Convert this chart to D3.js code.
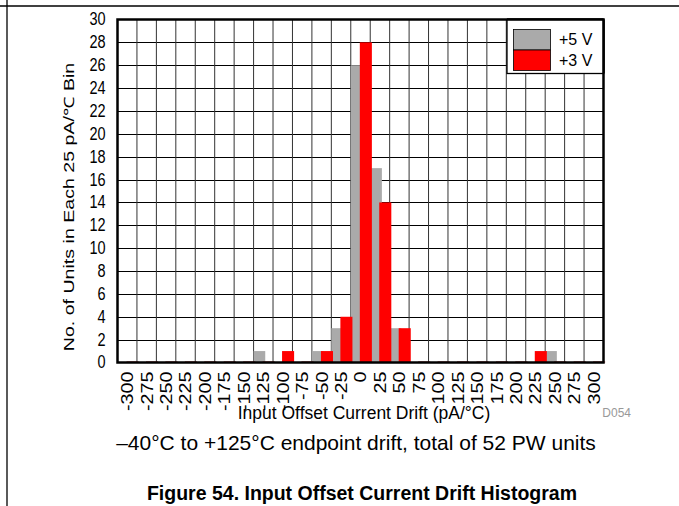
<!DOCTYPE html>
<html>
<head>
<meta charset="utf-8">
<script src="https://cdn.jsdelivr.net/npm/d3@7"></script>
<style>
  html, body { margin: 0; padding: 0; background: #fff; }
  svg { display: block; font-family: "Liberation Sans", Arial, sans-serif; }
</style>
</head>
<body>
<svg id="chart" width="679" height="506"></svg>
<script>
// ---- data ----
const bins = [-300,-275,-250,-225,-200,-175,-150,-125,-100,-75,-50,-25,0,25,50,75,100,125,150,175,200,225,250,275,300];
const plus5V = [0,0,0,0,0,0,0,1,0,0,1,3,26,17,3,0,0,0,0,0,0,0,1,0,0];
const plus3V = [0,0,0,0,0,0,0,0,1,0,1,4,28,14,3,0,0,0,0,0,0,1,0,0,0];
const yTicks = [0,2,4,6,8,10,12,14,16,18,20,22,24,26,28,30];
const seriesNames = ["+5 V", "+3 V"];
const seriesColors = ["#aaaaaa", "#ff0000"];

const svg = d3.select("#chart");
const M = { left: 117.5, right: 603.5, top: 19.5, bottom: 362.5 };

// text helper: font size fx horizontally, stretched to fy vertically
function stext(parent, x, y, str, fx, fy, opts = {}) {
  const t = parent.append("text")
    .attr("transform", `translate(${x},${y}) scale(1,${fy / fx})`)
    .attr("font-size", fx)
    .attr("text-anchor", opts.anchor || "start")
    .attr("fill", opts.fill || "#000")
    .text(str);
  if (opts.bold) t.attr("font-weight", "bold");
  return t;
}

// page frame lines
svg.append("line").attr("x1", 0).attr("x2", 679).attr("y1", 6).attr("y2", 6)
  .attr("stroke", "#000").attr("stroke-width", 1.3);
svg.append("line").attr("x1", 7).attr("x2", 7).attr("y1", 0).attr("y2", 506)
  .attr("stroke", "#000").attr("stroke-width", 1.3);

const x = d3.scaleBand().domain(bins).range([M.left, M.right]).padding(0);
const y = d3.scaleLinear().domain([0, 30]).range([M.bottom, M.top]);
const bw = x.bandwidth();

// gridlines
const grid = svg.append("g");
grid.selectAll("line.h").data(yTicks.slice(1, -1)).join("line")
  .attr("x1", M.left).attr("x2", M.right)
  .attr("y1", d => Math.round(y(d)) + 0.5).attr("y2", d => Math.round(y(d)) + 0.5)
  .attr("stroke", "#000").attr("stroke-width", 1);
grid.selectAll("line.v").data(bins.slice(1)).join("line")
  .attr("x1", d => x(d)).attr("x2", d => x(d))
  .attr("y1", M.top).attr("y2", M.bottom)
  .attr("stroke", "#333").attr("stroke-width", 1);

// bars
const g5 = svg.append("g");
g5.selectAll("rect").data(bins).join("rect")
  .attr("x", d => x(d))
  .attr("width", bw * 0.6)
  .attr("y", (d, i) => y(plus5V[i]))
  .attr("height", (d, i) => y(0) - y(plus5V[i]))
  .attr("fill", seriesColors[0]);
const g3 = svg.append("g");
g3.selectAll("rect").data(bins).join("rect")
  .attr("x", d => x(d) + bw * 0.465)
  .attr("width", bw * 0.62)
  .attr("y", (d, i) => y(plus3V[i]) - (plus3V[i] === 0 ? 1 : 0))
  .attr("height", (d, i) => y(0) - y(plus3V[i]) + (plus3V[i] === 0 ? 1 : 0))
  .attr("fill", (d, i) => plus3V[i] === 0 ? "#a01010" : seriesColors[1]);

// plot border
svg.append("rect")
  .attr("x", M.left).attr("y", M.top)
  .attr("width", M.right - M.left).attr("height", M.bottom - M.top)
  .attr("fill", "none").attr("stroke", "#000").attr("stroke-width", 2.5);

// y axis labels
const yAxis = d3.axisLeft(y).tickValues(yTicks).tickSize(0).tickPadding(12);
const yg = svg.append("g").attr("transform", `translate(${M.left},0)`).call(yAxis);
yg.select(".domain").remove();
yg.selectAll("text")
  .attr("font-size", 14.5).attr("fill", "#000")
  .attr("font-family", "Liberation Sans, Arial, sans-serif")
  .attr("x", null).attr("dy", null)
  .attr("transform", `translate(-12,0) scale(1,1.22) translate(0,4.5)`);

// x axis labels (rotated, stretched along their length)
const xAxis = d3.axisBottom(x).tickSize(0).tickPadding(0);
const xg = svg.append("g").attr("transform", `translate(0,${M.bottom})`).call(xAxis);
xg.select(".domain").remove();
xg.selectAll("text")
  .attr("font-size", 16.5).attr("fill", "#000")
  .attr("font-family", "Liberation Sans, Arial, sans-serif")
  .attr("x", null).attr("y", null).attr("dy", "0.36em")
  .attr("transform", "translate(0,9) rotate(-90) scale(1.2,1)")
  .attr("text-anchor", "end");

// y axis title
svg.append("text")
  .attr("transform", `translate(74,207) rotate(-90) scale(1.4,1)`)
  .attr("text-anchor", "middle").attr("font-size", 14)
  .text("No. of Units in Each 25 pA/\u2103 Bin");

// x axis title
stext(svg, 364, 419, "Input Offset Current Drift (pA/°C)", 17.5, 19, { anchor: "middle" });
stext(svg, 631, 417, "D054", 12, 13, { anchor: "end", fill: "#999" });

// legend
const lg = svg.append("g");
lg.append("rect").attr("x", 507).attr("y", M.top).attr("width", M.right - 507).attr("height", 54)
  .attr("fill", "#fff").attr("stroke", "#000").attr("stroke-width", 1.3);
svg.append("line").attr("x1", 507).attr("x2", M.right).attr("y1", M.top).attr("y2", M.top)
  .attr("stroke", "#000").attr("stroke-width", 2.5);
svg.append("line").attr("x1", M.right).attr("x2", M.right).attr("y1", M.top).attr("y2", M.top + 54)
  .attr("stroke", "#000").attr("stroke-width", 2.5);
seriesNames.forEach((name, i) => {
  lg.append("rect").attr("x", 513.5).attr("y", 29.5 + i * 20.5).attr("width", 37).attr("height", 20.5)
    .attr("fill", seriesColors[i]).attr("stroke", "#000").attr("stroke-width", 0.8);
  stext(lg, 559, 45 + i * 20.5, name, 16, 16);
});

// captions
stext(svg, 356, 450, "\u201340°C to +125°C endpoint drift, total of 52 PW units", 21, 21, { anchor: "middle" });
stext(svg, 362, 500, "Figure 54. Input Offset Current Drift Histogram", 19.5, 19.5, { anchor: "middle", bold: true });
</script>
</body>
</html>
